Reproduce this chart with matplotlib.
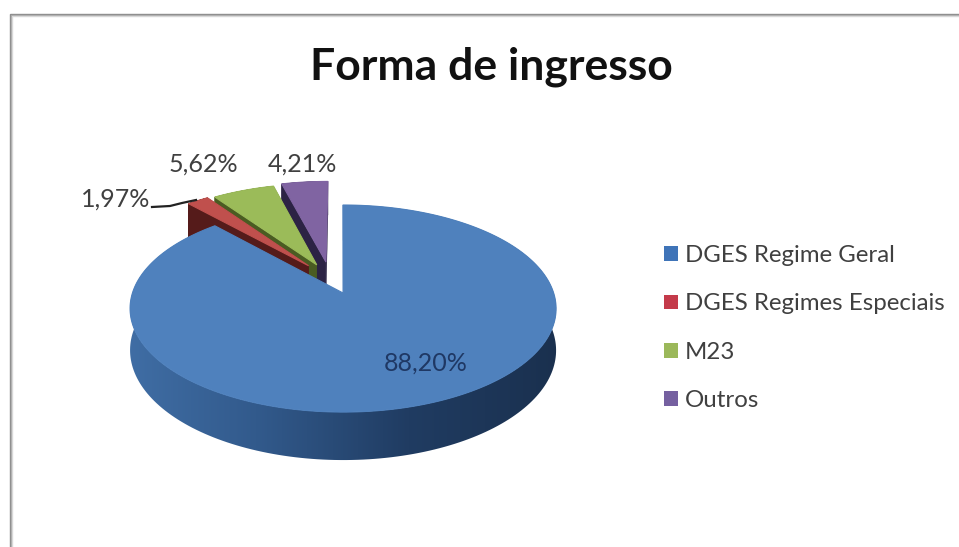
import numpy as np
import matplotlib
matplotlib.use("Agg")
import matplotlib.pyplot as plt
from matplotlib.patches import Patch, Polygon

title = "Forma de ingresso"
categories = ["DGES Regime Geral", "DGES Regimes Especiais", "M23", "Outros"]
values = [88.20, 1.97, 5.62, 4.21]

top_colors = ["#4F81BD", "#C0504D", "#9BBB59", "#8064A2"]
side_colors = ["#2A4F7E", "#551B1A", "#4A5C22", "#2C2344"]
legend_colors = ["#3F74B8", "#C43A4A", "#9BB85A", "#7560A0"]
# explosion of each slice on the disc (u right, v away from viewer)
explode = [(0.005, 0.0), (-0.165, 0.28), (-0.125, 0.29), (-0.08, 0.321)]
label_pos = [(426, 363), (116, 199), (203, 164), (302, 164)]

# perspective of the disc, in pixels
cx, cy = 342, 293
R, k, p = 210.6, 101.2, 0.15
depth = 40.8

plt.rcParams["font.family"] = ["Lato", "DejaVu Sans"]


def project(u, v):
    f = 1 / (1 + p * v)
    return cx + R * u * f, cy - k * v * f, depth * f


fig = plt.figure(figsize=(9.59, 5.47), dpi=100)
ax = fig.add_axes([0, 0, 1, 1])
ax.axis("off")

# frame of the screenshot
for i, c in enumerate(["#8a8a8a", "#a8a8a8", "#d8d8d8"]):
    ax.plot([9.5 + i, 9.5 + i, 959], [547, 13.5 + i, 13.5 + i], color=c, lw=1, solid_joinstyle="miter")

# slice angles, clockwise from 12 o'clock
edges = np.concatenate([[0], np.cumsum(values)]) * 3.6

# back slices first, the big one on top of them
for i in [3, 2, 1, 0]:
    t = np.radians(np.linspace(edges[i], edges[i + 1], 240))
    u = np.concatenate([[0], np.sin(t)]) + explode[i][0]
    v = np.concatenate([[0], np.cos(t)]) + explode[i][1]
    x, y, d = project(u, v)
    z = 2 + (3 - i) * 2
    if i == 0:
        # rim of the big slice gets darker from left to right
        s = np.linspace(0, 1, 256)
        grad = np.stack([np.interp(s, [0, 0.3, 0.65, 1], [64, 50, 32, 26]),
                         np.interp(s, [0, 0.3, 0.65, 1], [110, 90, 60, 48]),
                         np.interp(s, [0, 0.3, 0.65, 1], [165, 140, 98, 78])], axis=1) / 255
        im = ax.imshow(grad[np.newaxis, :, :], extent=(125, 562, 470, 200), aspect="auto", zorder=z)
        wall = np.column_stack([np.concatenate([x[1:], x[1:][::-1]]),
                                np.concatenate([y[1:], (y + d)[1:][::-1]])])
        im.set_clip_path(Polygon(wall, transform=ax.transData))
    else:
        n = len(x)
        for j in range(n):
            m = (j + 1) % n
            ax.fill([x[j], x[m], x[m], x[j]],
                    [y[j], y[m], y[m] + d[m], y[j] + d[j]],
                    color=side_colors[i], lw=0.2, zorder=z)
    ax.fill(x, y, color=top_colors[i], lw=0.8, zorder=z + 1)

ax.set_xlim(0, 959)
ax.set_ylim(547, 0)

# leader line of the small slice
ax.plot([152, 170, 182, 196], [207, 206, 203, 200], color="#222222", lw=1.6, zorder=12)

for i, val in enumerate(values):
    txt = f"{val:.2f}".replace(".", ",") + "%"
    col = "#1F3864" if i == 0 else "#404040"
    ax.text(label_pos[i][0], label_pos[i][1], txt, ha="center", va="center",
            fontsize=18, color=col, zorder=12)

ax.text(491, 67, title, ha="center", va="center", fontsize=32, fontweight="bold",
        color="#111111")

handles = [Patch(facecolor=c, edgecolor="none") for c in legend_colors]
ax.legend(handles, categories, loc="upper left", bbox_to_anchor=(0.6925, 0.552), frameon=False,
          fontsize=17.3, labelcolor="#404040", handlelength=0.57, handleheight=0.57,
          handletextpad=0.28, labelspacing=1.14, borderpad=0, borderaxespad=0)

fig.savefig("out.png", dpi=100)
